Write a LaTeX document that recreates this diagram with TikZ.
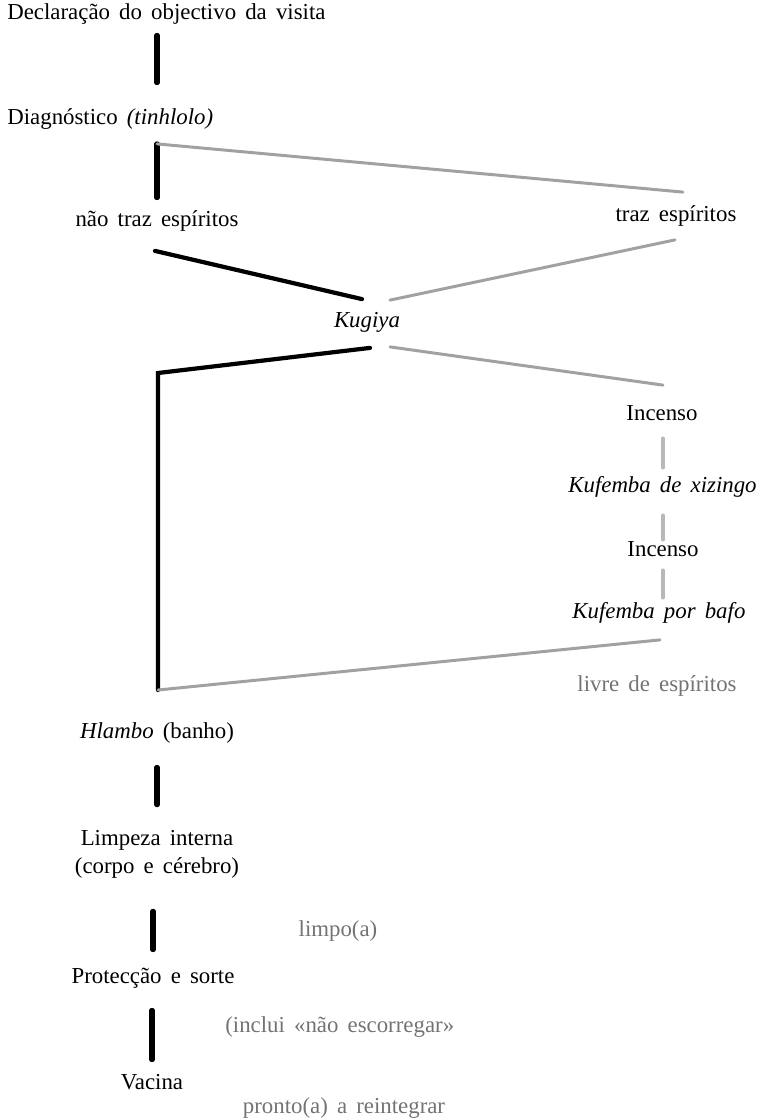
\documentclass[tikz,border=0pt]{standalone}
\usepackage{fontspec}
\setmainfont{Liberation Serif}[WordSpace=1.6]
\usetikzlibrary{calc}
\tikzset{every path/.style={line cap=round}, lbl/.style={inner sep=0pt, text height=9.2pt, text depth=2.8pt, font=\fontsize{13}{16}\selectfont},
  lblgray/.style={lbl, text=black!55}, lbltwo/.style={inner sep=0pt, align=center, font=\fontsize{13}{15.9}\selectfont},
  blackbar/.style={black, line width=2.9pt}, blackline/.style={black, line width=2.4pt},
  grayline/.style={black!37, line width=1.7pt}, graybar/.style={black!28, line width=2.2pt}}

\begin{document}
\begin{tikzpicture}[x=0.02cm,y=-0.02cm]
   \useasboundingbox (0,0) rectangle (757,1120);
   \node[lbl,anchor=west] (decl)    at (7,14)    {Declaração do objectivo da visita};
   \node[lbl,anchor=west] (diag)    at (7,119)   {Diagnóstico \textit{(tinhlolo)}};
   \node[lbl]             (nao)     at (157,221) {não traz espíritos};
   \node[lbl]             (traz)    at (676,216) {traz espíritos};
   \node[lbl]             (kug)     at (367,322) {\textit{Kugiya}};
   \node[lbl]             (inc1)    at (662,415) {Incenso};
   \node[lbl,anchor=west] (kx)      at (568,487) {\textit{Kufemba de xizingo}};
   \node[lbl]             (inc2)    at (663,551) {Incenso};
   \node[lbl,anchor=west] (kb)      at (572,613) {\textit{Kufemba por bafo}};
   \node[lblgray]         (livre)   at (657,686) {livre de espíritos};
   \node[lbl]             (hlambo)  at (157,733) {\textit{Hlambo} (banho)};
   \node[lbltwo]          (limpeza) at (157,854) {Limpeza interna\\(corpo e cérebro)};
   \node[lblgray]         (limpo)   at (338,931) {limpo(a)};
   \node[lbl]             (prot)    at (153,978) {Protecção e sorte};
   \node[lblgray,anchor=west] (inclui) at (225,1027) {(inclui «não escorregar»};
   \node[lbl]             (vacina)  at (152,1084) {Vacina};
   \node[lblgray]         (pronto)  at (344,1108) {pronto(a) a reintegrar};

   \coordinate (split) at ($(diag.south -| nao)+(0,14)$);
   \coordinate (bend)  at (158,373);
   \coordinate (join)  at (158,690);

   \draw[blackbar,shorten <=0.21cm,shorten >=0.51cm] (decl.south -| nao) -- (diag.north -| nao);
   \draw[blackbar,shorten >=0.25cm] (split) -- (nao.north);
   \draw[grayline] (split) -- ($(traz.north)+(7,-13)$);
   \draw[blackline] ($(nao.south)+(-2,19)$) -- ($(kug.north)+(-5,-12)$);
   \draw[grayline] ($(traz.south)+(-1,13)$) -- ($(kug.north)+(23,-11)$);
   \draw[blackline] ($(kug.south)+(3,15)$) -- (bend) -- (join);
   \draw[grayline] ($(kug.south)+(23,14)$) -- ($(inc1.north)+(1,-19)$);
   \draw[graybar,shorten <=0.25cm,shorten >=0.17cm] (inc1.south -| inc2) -- (kx.north -| inc2);
   \draw[graybar,shorten <=0.35cm,shorten >=0.01cm] (kx.south -| inc2) -- (inc2.north);
   \draw[graybar,shorten <=0.17cm,shorten >=0.09cm] (inc2.south) -- (kb.north -| inc2);
   \draw[grayline] ($(kb.south -| inc2)+(-3,16)$) -- (join);
   \draw[blackbar,shorten <=0.47cm,shorten >=0.5cm] (hlambo.south) -- (limpeza.north);
   \draw[blackbar,shorten <=0.66cm,shorten >=0.35cm] (limpeza.south -| prot) -- (prot.north);
   \draw[blackbar,shorten <=0.43cm,shorten >=0.27cm] (prot.south -| vacina) -- (vacina.north);
\end{tikzpicture}
\end{document}
